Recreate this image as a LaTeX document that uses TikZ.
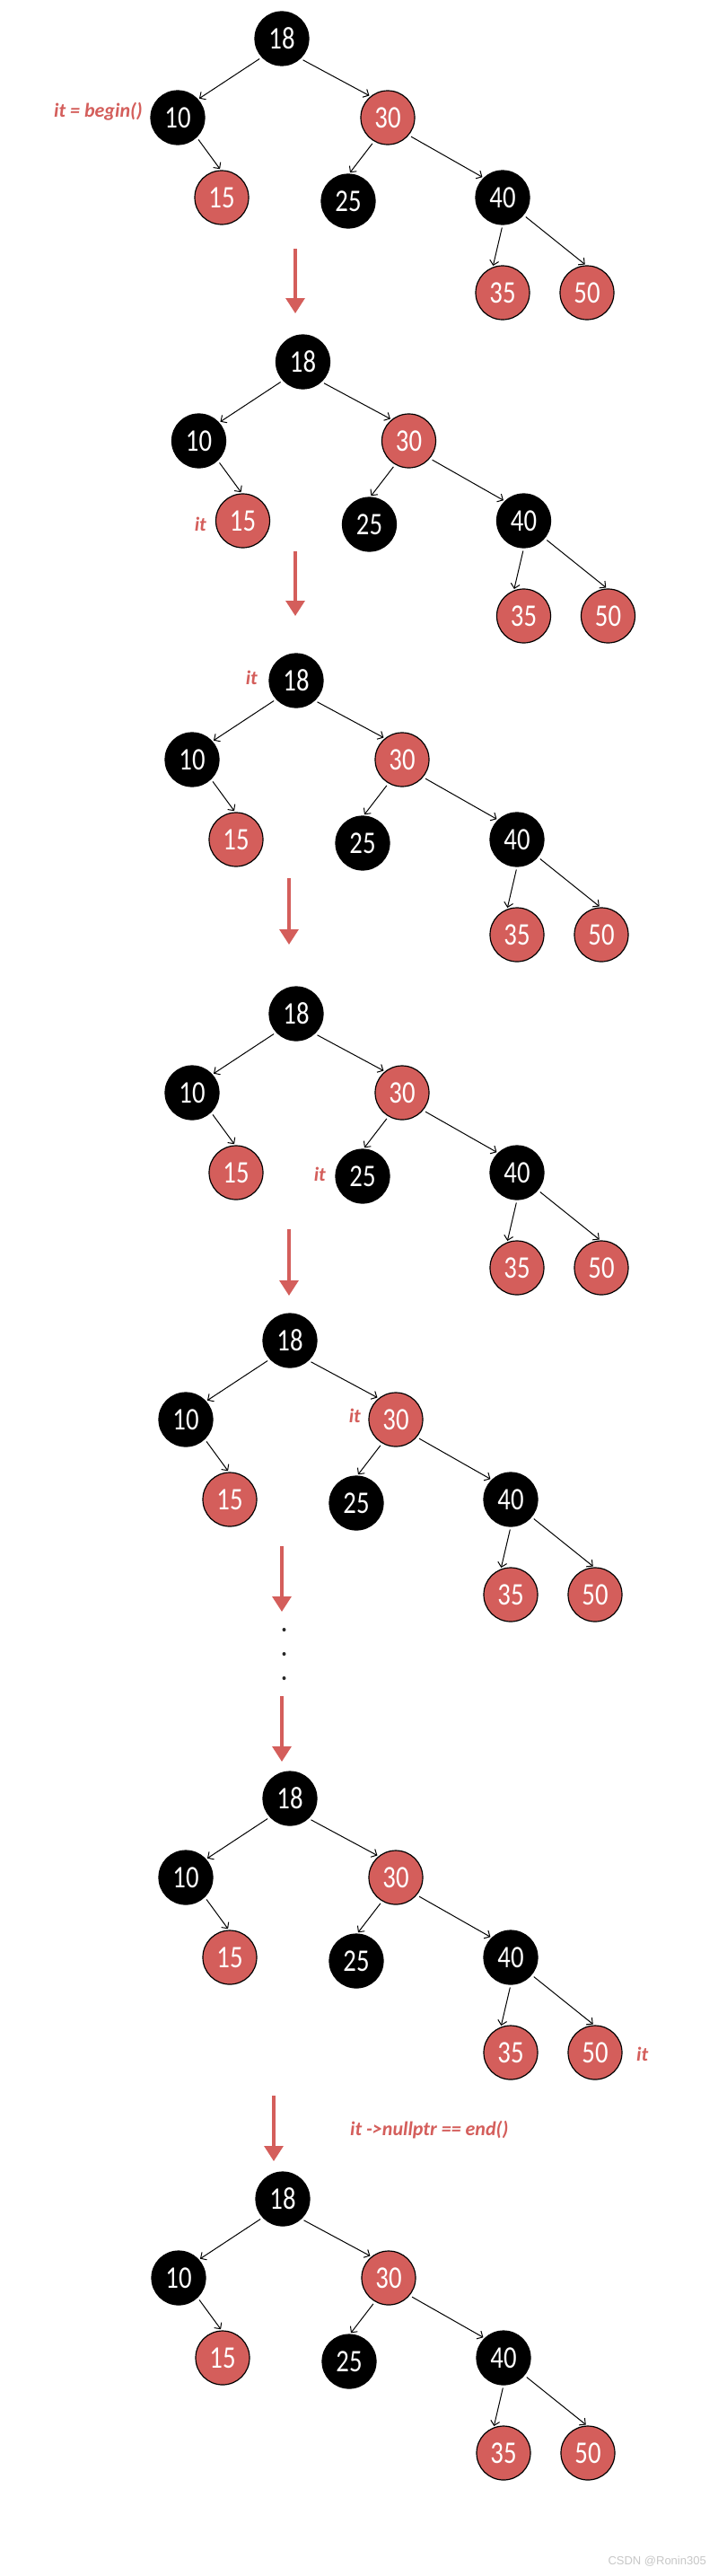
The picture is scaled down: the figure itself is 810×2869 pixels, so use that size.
\documentclass[tikz,border=0pt]{standalone}
\usepackage{fontspec}
\setmainfont{Carlito}
\newfontfamily\numfont{Carlito}[FakeStretch=0.82]
\newfontfamily\wmfont{Liberation Sans}
\usetikzlibrary{arrows.meta}
\definecolor{rbred}{HTML}{D45E5B}
\tikzset{
  bnode/.style={circle,fill=black,draw=black,line width=1.2pt,minimum size=60pt,inner sep=0pt,
    text=white,font=\numfont\fontsize{35}{35}\selectfont},
  rnode/.style={bnode,fill=rbred},
  edge/.style={draw=black,line width=1pt,shorten <=3pt,shorten >=1.5pt,
    -{Straight Barb[length=5pt,width=10pt,line width=1pt]}},
  itlabel/.style={text=rbred,font=\bfseries\itshape\fontsize{22}{22}\selectfont,inner sep=0pt},
  steparrow/.style={draw=rbred,line width=3.2pt,-{Triangle[length=17pt,width=21pt]}},
  dotmark/.style={circle,fill=black!85,inner sep=0pt,minimum size=4pt},
}
\newcommand{\rbtree}[3]{%
  \node[bnode] (#1a) at (#2,#3) {18};
  \node[bnode] (#1b) at ({#2-116},{#3+88}) {10};
  \node[rnode] (#1c) at ({#2+118},{#3+88}) {30};
  \node[rnode] (#1d) at ({#2-67},{#3+177}) {15};
  \node[bnode] (#1e) at ({#2+74},{#3+181}) {25};
  \node[bnode] (#1f) at ({#2+246},{#3+177}) {40};
  \node[rnode] (#1g) at ({#2+246},{#3+283}) {35};
  \node[rnode] (#1h) at ({#2+340},{#3+283}) {50};
  \draw[edge] (#1a.-137) -- (#1b.42);
  \draw[edge] (#1a.-47) -- (#1c.129);
  \draw[edge] (#1b.-46) -- (#1d.92);
  \draw[edge] (#1c.-120) -- (#1e.88);
  \draw[edge] (#1c.-40) -- (#1f.134);
  \draw[edge] (#1f.-90) -- (#1g.111);
  \draw[edge] (#1f.-40) -- (#1h.92);
}
\begin{document}
\begin{tikzpicture}[x=1pt,y=-1pt]
\useasboundingbox[fill=white] (0,0) rectangle (810,2869);
% trees
\rbtree{ta}{314}{43}
\rbtree{tb}{337.5}{403}
\rbtree{tc}{330}{758}
\rbtree{td}{330}{1129}
\rbtree{te}{323}{1493}
\rbtree{tf}{323}{2003}
\rbtree{tg}{315}{2449}
% iterator labels
\node[itlabel,anchor=east] (la) at (159,124) {it = begin()};
\node[itlabel,anchor=east] (lb) at (230,584) {it};
\node[itlabel,anchor=east] (lc) at (287,755) {it};
\node[itlabel,anchor=east] (ld) at (363,1308) {it};
\node[itlabel,anchor=east] (le) at (402,1577) {it};
\node[itlabel,anchor=west] (lf) at (709,2288) {it};
\node[itlabel,anchor=west] (lg) at (390,2372) {it ->nullptr == end()};
% step arrows
\coordinate (a1s) at (329,277);  \coordinate (a1e) at (329,349);
\coordinate (a2s) at (329,614);  \coordinate (a2e) at (329,686);
\coordinate (a3s) at (322,978);  \coordinate (a3e) at (322,1052);
\coordinate (a4s) at (322,1369); \coordinate (a4e) at (322,1443);
\coordinate (a5s) at (314,1722); \coordinate (a5e) at (314,1795);
\coordinate (a6s) at (314,1889); \coordinate (a6e) at (314,1962);
\coordinate (a7s) at (305,2334); \coordinate (a7e) at (305,2407);
\foreach \i in {1,...,7} {\draw[steparrow] (a\i s) -- (a\i e);}
% dots
\node[dotmark] (d1) at (316.5,1815) {};
\node[dotmark] (d2) at (316.5,1842) {};
\node[dotmark] (d3) at (316.5,1869) {};
% watermark
\node[text=black!22,font=\wmfont\fontsize{13}{13}\selectfont,anchor=east,inner sep=0pt] (wm) at (787,2853) {CSDN @Ronin305};
\end{tikzpicture}
\end{document}
